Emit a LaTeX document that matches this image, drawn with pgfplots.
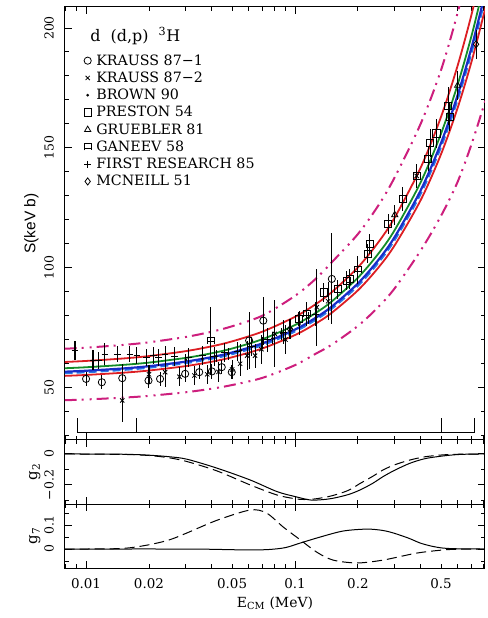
\documentclass[border=0pt]{standalone}
\usepackage{fontspec}
\setmainfont{DejaVu Serif}
\newfontfamily\sansf{Liberation Sans}
\usepackage{pgfplots}
\pgfplotsset{compat=1.18}
\definecolor{cred}{RGB}{220,30,35}
\definecolor{cgreen}{RGB}{20,140,40}
\definecolor{cblue}{RGB}{25,45,200}
\definecolor{cblue2}{RGB}{40,120,230}
\definecolor{cmag}{RGB}{205,30,125}
\pgfdeclareplotmark{ganeev}{%
  \pgfpathmoveto{\pgfpoint{-\pgfplotmarksize}{-\pgfplotmarksize}}%
  \pgfpathlineto{\pgfpoint{-\pgfplotmarksize}{\pgfplotmarksize}}%
  \pgfpathlineto{\pgfpoint{\pgfplotmarksize}{\pgfplotmarksize}}%
  \pgfpathlineto{\pgfpoint{\pgfplotmarksize}{-\pgfplotmarksize}}%
  \pgfpathmoveto{\pgfpoint{-\pgfplotmarksize}{-0.3\pgfplotmarksize}}%
  \pgfpathlineto{\pgfpoint{\pgfplotmarksize}{-0.3\pgfplotmarksize}}%
  \pgfusepathqstroke}
\pgfplotsset{
  every axis/.append style={scale only axis, width=420bp,
    major tick length=7bp, minor tick length=4bp,
    axis line style={line width=1bp},
    tick style={black, line width=0.9bp},
    yticklabel style={rotate=90, anchor=south, inner sep=1bp, font=\fontsize{12.5}{14}\selectfont},
    ylabel style={anchor=center, font=\fontsize{15}{17}\selectfont}},
}
\begin{document}
\begin{tikzpicture}
\useasboundingbox (-65bp,-50bp) rectangle (423bp,568bp);
% ---------------- top panel
\begin{axis}[at={(0,128bp)}, height=433bp, ymin=28.1, ymax=208.75,
  xmode=log, xmin=0.00793, xmax=0.811,
  xtick={0.01,0.1}, xticklabels={,,},
  minor xtick={0.008,0.009,0.02,0.03,0.04,0.05,0.06,0.07,0.08,0.09,0.2,0.3,0.4,0.5,0.6,0.7,0.8},
  /pgf/number format/assume math mode=true,
  yticklabel shift=10bp,
  ytick={50,100,150,200}, minor ytick={30,40,...,200},
  ylabel={\sansf S(keV b)},
  ylabel style={at={(axis description cs:-0.08,0.5)}, font=\fontsize{15.5}{17}\selectfont},
  legend style={draw=none, fill=none, at={(axis description cs:0.045,0.895)}, anchor=north west,
    font=\fontsize{14.3}{17}\selectfont, row sep=1.2bp, inner sep=0pt,
    /tikz/every odd column/.append style={column sep=3bp}},
  legend cell align=left,
]
% bands and fits
\addplot[smooth, forget plot, cmag, line width=2bp, dash pattern=on 12bp off 5bp on 2bp off 6bp on 2bp off 5bp] coordinates {
(0.0079,66.17) (0.01,66.63) (0.015,67.75) (0.02,68.86) (0.03,71.09) (0.04,73.31) (0.05,75.55) (0.07,80.02) (0.1,88.25) (0.125,95.18) (0.15,102.26) (0.2,114.03) (0.25,125.84) (0.3,137.71) (0.4,160.22) (0.5,182.52) (0.6,206.36) (0.7,230.4)};
\addplot[smooth, forget plot, cmag, line width=2bp, dash pattern=on 12bp off 5bp on 2bp off 6bp on 2bp off 5bp] coordinates {
(0.0079,44.69) (0.01,45.01) (0.015,45.76) (0.02,46.51) (0.03,48.02) (0.04,49.52) (0.05,51.03) (0.07,54.05) (0.1,59.34) (0.125,63.99) (0.15,67.88) (0.2,75.70) (0.25,83.54) (0.3,91.42) (0.4,107.27) (0.5,121.68) (0.6,135.81) (0.7,151.63) (0.8,167.57) (0.82,170.77)};
\addplot[smooth, forget plot, cblue2, line width=2.2bp, dash pattern=on 8bp off 4bp] coordinates {
(0.0079,56.01) (0.01,56.40) (0.015,57.35) (0.02,58.29) (0.03,60.18) (0.04,62.06) (0.05,63.95) (0.07,67.73) (0.1,73.42) (0.125,78.17) (0.15,82.92) (0.2,92.47) (0.25,102.05) (0.3,111.67) (0.4,131.03) (0.5,150.54) (0.6,170.21) (0.7,190.03) (0.8,210.0) (0.82,214.02)};
\addplot[smooth, forget plot, cblue, line width=2.2bp] coordinates {
(0.0079,56.59) (0.01,56.99) (0.015,57.94) (0.02,58.89) (0.03,60.80) (0.04,62.70) (0.05,64.61) (0.07,68.44) (0.1,74.18) (0.125,78.98) (0.15,83.78) (0.2,93.42) (0.25,103.11) (0.3,112.83) (0.4,132.39) (0.5,152.10) (0.6,171.97) (0.7,192.00) (0.8,212.18) (0.82,216.24)};
\addplot[smooth, forget plot, cgreen, line width=1.8bp] coordinates {
(0.0079,58.04) (0.01,58.45) (0.015,59.43) (0.02,60.40) (0.03,62.36) (0.04,64.31) (0.05,66.27) (0.07,70.19) (0.1,76.08) (0.125,81.00) (0.15,85.93) (0.2,95.82) (0.25,105.75) (0.3,115.72) (0.4,135.78) (0.5,156.00) (0.6,176.38) (0.7,196.92) (0.8,217.62) (0.82,221.78)};
\addplot[smooth, forget plot, cred, line width=1.8bp] coordinates {
(0.0079,60.65) (0.01,61.08) (0.015,62.10) (0.02,63.12) (0.03,65.17) (0.04,67.20) (0.05,69.25) (0.07,73.35) (0.1,79.50) (0.125,84.65) (0.15,89.80) (0.2,100.13) (0.25,110.51) (0.3,120.93) (0.4,141.89) (0.5,163.02) (0.6,184.32) (0.7,205.78) (0.8,227.41) (0.82,231.76)};
\addplot[smooth, forget plot, cred, line width=1.8bp] coordinates {
(0.0079,54.85) (0.01,55.24) (0.015,56.16) (0.02,57.08) (0.03,58.93) (0.04,60.77) (0.05,62.63) (0.07,66.33) (0.1,71.90) (0.125,76.55) (0.15,81.20) (0.2,90.55) (0.25,99.93) (0.3,109.36) (0.4,128.31) (0.5,147.42) (0.6,166.68) (0.7,186.09) (0.8,205.65) (0.82,209.58)};
% energy-range bracket
\addplot[black, line width=0.8bp, forget plot] coordinates {(0.00905,37.1) (0.00905,31.25) (0.719,31.25) (0.719,37.1)};
\addplot[black, line width=0.8bp, forget plot] coordinates {(0.0175,37.1) (0.0175,31.25)};
\addplot[black, line width=0.8bp, forget plot] coordinates {(0.5,37.1) (0.5,31.25)};
% data
\addplot[only marks, black, mark=o, mark size=3.6bp, mark options={line width=0.8bp},
  error bars/.cd, y dir=both, y explicit, error mark=none, error bar style={line width=1.1bp}]
  table[x=E, y=S, y error=e] {
E S e
0.0100 53.6 3.0
0.0119 52.2 3.0
0.0149 53.9 6.0
0.0199 52.9 3.0
0.0226 53.6 3.0
0.0298 55.7 3.5
0.0348 56.4 3.0
0.0400 56.7 3.0
0.0446 58.5 3.0
0.0498 56.4 3.0
0.0603 69.6 12.0
0.0705 77.9 10.0
0.150 95.3 19.0
};
\addlegendentry{KRAUSS 87−1}
\addplot[only marks, black, mark=x, mark size=3bp, mark options={line width=0.8bp},
  error bars/.cd, y dir=both, y explicit, error mark=none, error bar style={line width=1.1bp}]
  table[x=E, y=S, y error=e] {
E S e
0.0149 44.6 9.0
0.0200 55.5 4.0
0.0239 56.4 6.0
0.0280 54.5 4.0
0.0330 55.0 4.0
0.0380 55.5 4.0
0.0430 56.5 4.0
0.0500 57.5 4.0
0.0546 59.9 5.0
0.0590 63.3 6.0
0.0644 63.3 5.0
0.0690 66.0 6.0
0.0800 72.4 14.0
0.0900 70.0 6.0
0.1270 83.5 16.0
0.1440 86.0 8.0
0.3820 138.3 5.0
};
\addlegendentry{KRAUSS 87−2}
\addplot[only marks, black, mark=*, mark size=1.2bp,
  error bars/.cd, y dir=both, y explicit, error mark=none, error bar style={line width=1.1bp}]
  table[x=E, y=S, y error=e] {
E S e
0.030 61.5 2.5
0.036 62.0 2.5
0.042 63.0 2.5
0.048 64.0 2.5
0.055 65.5 2.5
0.062 67.0 2.5
0.070 68.5 2.5
0.078 70.5 2.5
0.086 72.5 2.5
0.095 74.5 2.5
0.105 76.5 2.5
0.116 79.0 2.5
};
\addlegendentry{BROWN 90}
\addplot[only marks, black, mark=square, mark size=3.6bp, mark options={line width=0.8bp},
  error bars/.cd, y dir=both, y explicit, error mark=none, error bar style={line width=1.1bp}]
  table[x=E, y=S, y error=e] {
E S e
0.104 78.6 3.0
0.137 89.7 4.0
0.160 91.0 4.0
0.177 94.6 4.0
0.183 95.3 4.0
0.223 105.8 4.0
0.228 109.9 4.0
0.279 118.2 4.0
0.327 128.6 5.0
0.382 138.3 5.0
0.434 145.3 5.0
0.443 152.0 6.0
0.475 156.0 6.0
0.541 167.5 8.0
0.551 163.0 6.0
};
\addlegendentry{PRESTON 54}
\addplot[only marks, black, mark=triangle, mark size=3.6bp, mark options={line width=0.8bp},
  error bars/.cd, y dir=both, y explicit, error mark=none, error bar style={line width=1.1bp}]
  table[x=E, y=S, y error=e] {
E S e
0.300 122.0 4.0
0.600 176.0 6.0
};
\addlegendentry{GRUEBLER 81}
\addplot[only marks, black, mark=ganeev, mark size=3.3bp, mark options={line width=0.8bp},
  error bars/.cd, y dir=both, y explicit, error mark=none, error bar style={line width=1.1bp}]
  table[x=E, y=S, y error=e] {
E S e
0.0395 69.6 14.0
0.1140 80.7 5.0
0.2000 99.0 6.0
};
\addlegendentry{GANEEV 58}
\addplot[only marks, black, mark=+, mark size=3.3bp, mark options={line width=0.8bp},
  error bars/.cd, y dir=both, y explicit, error mark=none, error bar style={line width=1.1bp}]
  table[x=E, y=S, y error=e] {
E S e
0.00885 65.4 4.0
0.0108 61.5 4.0
0.0115 61.2 3.5
0.0123 64.0 4.5
0.0141 64.0 3.5
0.0162 64.0 3.5
0.0175 63.3 3.5
0.0195 62.6 3.5
0.0210 63.3 3.5
0.0222 62.6 3.5
0.0239 64.0 3.5
0.0265 63.0 4.0
0.0310 62.5 4.0
0.0360 63.5 4.0
0.0410 63.0 4.0
0.0460 64.5 4.0
0.0530 65.0 4.0
0.0620 67.0 4.0
0.0740 70.0 5.0
0.0880 73.0 5.0
0.1050 77.0 5.0
0.1250 80.5 5.0
};
\addlegendentry{FIRST RESEARCH 85}
\addplot[only marks, black, mark=diamond, mark size=3.6bp, mark options={line width=0.8bp},
  error bars/.cd, y dir=both, y explicit, error mark=none, error bar style={line width=1.1bp}]
  table[x=E, y=S, y error=e] {
E S e
0.0946 74.4 4.0
0.7350 193.2 6.0
};
\addlegendentry{MCNEILL 51}
\node[anchor=base west, font=\fontsize{16}{18}\selectfont] at (axis description cs:0.052,0.92) {d\ \ (d,p)\ \ \textsuperscript{3}H};
\end{axis}
% ---------------- middle panel g2
\begin{axis}[at={(0,64bp)}, height=64bp, ymin=-0.323, ymax=0.09,
  xmode=log, xmin=0.00793, xmax=0.811,
  xtick={0.01,0.1}, xticklabels={,,},
  minor xtick={0.008,0.009,0.02,0.03,0.04,0.05,0.06,0.07,0.08,0.09,0.2,0.3,0.4,0.5,0.6,0.7,0.8},
  yticklabel shift=10bp,
  ytick={-0.2,0}, yticklabels={−0.2,0}, minor ytick={-0.3,-0.1},
  ylabel={g\textsubscript{2}},
  ylabel style={at={(axis description cs:-0.072,0.5)}}]
\addplot[black, smooth, line width=1bp] coordinates {
(0.0079,0) (0.015,-0.002) (0.02,-0.008) (0.025,-0.018) (0.0304,-0.034) (0.0424,-0.092) (0.061,-0.168) (0.082,-0.243) (0.1,-0.275) (0.118,-0.297) (0.135,-0.295) (0.152,-0.286) (0.18,-0.262) (0.205,-0.232) (0.235,-0.19) (0.264,-0.146) (0.3,-0.105) (0.355,-0.06) (0.42,-0.03) (0.51,-0.013) (0.6,-0.004) (0.7,-0.001) (0.811,0)};
\addplot[black, smooth, line width=1bp, dash pattern=on 10bp off 5bp] coordinates {
(0.0079,0) (0.015,-0.003) (0.02,-0.01) (0.025,-0.025) (0.0304,-0.049) (0.0424,-0.11) (0.061,-0.20) (0.082,-0.265) (0.1,-0.289) (0.11,-0.294) (0.125,-0.29) (0.15,-0.27) (0.18,-0.235) (0.205,-0.19) (0.235,-0.145) (0.264,-0.103) (0.3,-0.07) (0.355,-0.039) (0.42,-0.018) (0.51,-0.006) (0.6,-0.002) (0.811,0)};
\end{axis}
% ---------------- bottom panel g7
\begin{axis}[at={(0,0)}, height=64bp, ymin=-0.079, ymax=0.1875,
  xmode=log, xmin=0.00793, xmax=0.811,
  xtick={0.01,0.1}, xticklabels={,,},
  minor xtick={0.008,0.009,0.02,0.03,0.04,0.05,0.06,0.07,0.08,0.09,0.2,0.3,0.4,0.5,0.6,0.7,0.8},
  yticklabel shift=10bp,
  ytick={0,0.1}, yticklabels={0,0.1}, minor ytick={-0.05,0.05,0.15},
  ylabel={g\textsubscript{7}},
  ylabel style={at={(axis description cs:-0.072,0.5)}},
  extra x ticks={0.01,0.02,0.05,0.1,0.2,0.5},
  extra x tick labels={0.01,0.02,0.05,0.1,0.2,0.5},
  extra x tick style={major tick length=0pt},
  xticklabel style={font=\fontsize{13.5}{15}\selectfont, inner sep=1bp},
  xticklabel shift=9bp,
  xlabel={E\textsubscript{CM}\ (MeV)},
  xlabel style={at={(axis description cs:0.5,0)}, anchor=center, yshift=-35bp, font=\fontsize{14}{16}\selectfont}]
\addplot[black, smooth, line width=1bp] coordinates {
(0.0079,0) (0.03,0) (0.045,-0.002) (0.06,-0.004) (0.075,-0.002) (0.09,0.006) (0.106,0.025) (0.132,0.05) (0.17,0.075) (0.22,0.083) (0.26,0.078) (0.295,0.067) (0.35,0.045) (0.397,0.025) (0.45,0.012) (0.51,0.004) (0.6,0.001) (0.811,0)};
\addplot[black, smooth, line width=1bp, dash pattern=on 10bp off 5bp] coordinates {
(0.0079,0) (0.0146,0.002) (0.0198,0.017) (0.025,0.038) (0.0304,0.067) (0.0424,0.12) (0.061,0.1625) (0.073,0.15) (0.0877,0.092) (0.106,0.038) (0.127,-0.013) (0.152,-0.046) (0.198,-0.058) (0.264,-0.046) (0.382,-0.017) (0.51,-0.004) (0.6,-0.001) (0.811,0)};
\end{axis}
\end{tikzpicture}
\end{document}
